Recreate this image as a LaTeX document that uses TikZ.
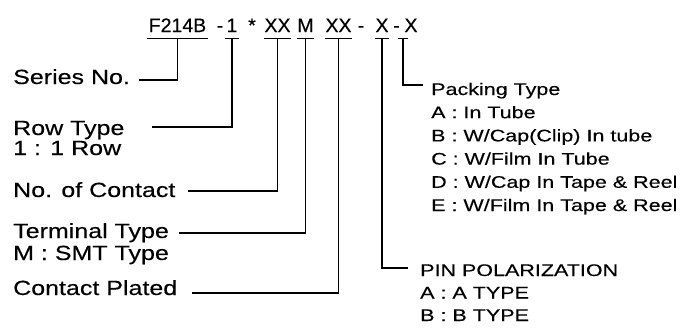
\documentclass[tikz,border=0pt]{standalone}
\usepackage{fontspec}
\setmainfont{Liberation Sans}[FakeBold=0.3]
\newfontfamily\lblfont[FakeStretch=1.22,FakeBold=0.3]{Liberation Sans}
\newfontfamily\optfont[FakeStretch=1.28,FakeBold=0.3]{Liberation Sans}
\usetikzlibrary{positioning}

\begin{document}
\begin{tikzpicture}[
x=1pt, y=-1pt,
code/.style={anchor=base, inner sep=0pt, text depth=0pt, font=\fontsize{19.5}{24}\selectfont},
part/.style={code, minimum width=#1},
lbl/.style={anchor=base west, inner sep=0pt, font=\lblfont\fontsize{20.5}{24}\selectfont},
opt/.style={anchor=base west, inner sep=0pt, font=\optfont\fontsize{16.8}{20}\selectfont},
tap/.style={line width=1.1pt}
]
\useasboundingbox (0,0) rectangle (687,327);

% part number
\node[part=61] (series) at (177.5,32) {F214B};
\node[code] (dash1) at (220,32) {-};
\node[part=13] (row) at (232,32) {1};
\node[code] (star) at (252,32) {*};
\node[part=25] (contacts) at (277.5,32) {XX};
\node[part=15] (term) at (305.5,32) {M};
\node[part=27] (plating) at (338.5,32) {XX};
\node[code] (dash2) at (361,32) {-};
\node[part=14] (pol) at (382,32) {X};
\node[code] (dash3) at (396.5,32) {-};
\node[code] (pack) at (411,32) {X};

% left labels
\node[lbl] (seriesl) at (13,84) {Series No.};
\node[lbl] (rowl) at (13,135) {Row Type};
\node[lbl] (rowv) at (13,155) {1 : 1 Row};
\node[lbl] (contactsl) at (13,197) {No. of Contact};
\node[lbl] (terml) at (13,238) {Terminal Type};
\node[lbl] (termv) at (13,260) {M : SMT Type};
\node[lbl] (platingl) at (13,295) {Contact Plated};

% packing options
\node[opt] (packl) at (431,95) {Packing Type};
\node[opt] (packa) at (431,118.2) {A : In Tube};
\node[opt] (packb) at (431,141.4) {B : W/Cap(Clip) In tube};
\node[opt] (packc) at (431,164.6) {C : W/Film In Tube};
\node[opt] (packd) at (431,187.8) {D : W/Cap In Tape \& Reel};
\node[opt] (packe) at (431,211) {E : W/Film In Tape \& Reel};

% polarization options
\node[opt] (poll) at (420,276) {PIN POLARIZATION};
\node[opt] (pola) at (420,298.5) {A : A TYPE};
\node[opt] (polb) at (420,321) {B : B TYPE};

% underlines
\foreach \p in {series,row,contacts,term,plating,pol}
  \draw[tap] ([yshift=-6pt]\p.south west) -- ([yshift=-6pt]\p.south east);
\draw[tap] ([shift={(-13,6)}]pack.south) -- ([shift={(-3,6)}]pack.south);

% leaders
\draw[tap] ([yshift=-6pt]series.south) |- ([shift={(9,-4)}]seriesl.base east);
\draw[tap] ([yshift=-6pt]row.south) |- ([shift={(27,-8)}]rowl.base east);
\draw[tap] ([yshift=-6pt]contacts.south) |- ([shift={(12,-6)}]contactsl.base east);
\draw[tap] ([yshift=-6pt]term.south) |- ([shift={(10,-5)}]terml.base east);
\draw[tap] ([yshift=-6pt]plating.south) |- ([shift={(15,-2)}]platingl.base east);
\draw[tap] ([yshift=-6pt]pol.south) |- ([shift={(-12,-8)}]poll.base west);
\draw[tap] ([shift={(-8,6)}]pack.south) |- ([shift={(-8,-10)}]packl.base west);
\end{tikzpicture}
\end{document}
